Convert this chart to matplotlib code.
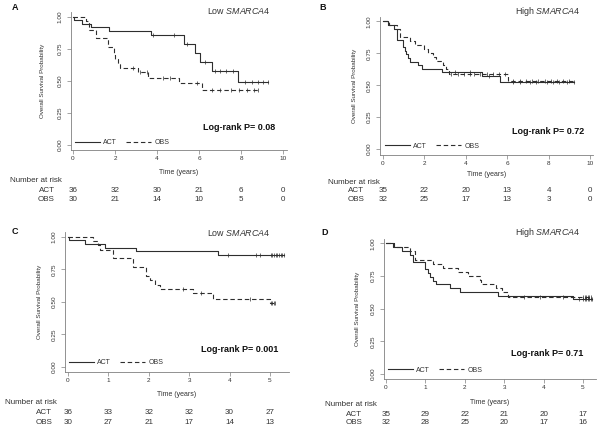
import matplotlib
matplotlib.use('Agg')

import matplotlib.pyplot as plt
import matplotlib.transforms as mtransforms
import numpy as np

# ---- data: Kaplan-Meier steps ----
# A: low SMARCA4, 10-year follow-up
a_act_t = [0, 0.05, 0.45, 0.85, 1.70, 3.73, 5.30, 5.80, 6.05, 6.60, 7.85]
a_act_s = [1.0, 0.972, 0.944, 0.917, 0.889, 0.861, 0.79, 0.72, 0.65, 0.58, 0.49]
a_act_end = 9.3
a_act_cens = [3.8, 4.8, 5.45, 6.3, 6.75, 7.0, 7.3, 7.6, 8.2, 8.5, 8.8, 9.05, 9.3]
a_obs_t = [0, 0.60, 0.78, 1.10, 1.65, 1.95, 2.02, 2.12, 2.25, 3.10, 3.58, 5.05, 6.15]
a_obs_s = [1.0, 0.967, 0.90, 0.833, 0.767, 0.70, 0.667, 0.633, 0.60, 0.567, 0.525, 0.485, 0.43]
a_obs_end = 8.8
a_obs_cens = [2.85, 3.2, 3.5, 4.3, 4.6, 5.9, 6.6, 7.0, 7.5, 7.9, 8.3, 8.6, 8.8]

# B: high SMARCA4, 10-year follow-up
b_act_t = [0, 0.25, 0.52, 0.69, 0.95, 1.05, 1.13, 1.21, 1.32, 1.69, 1.86, 2.87, 4.76, 5.65]
b_act_s = [1.0, 0.971, 0.943, 0.857, 0.80, 0.771, 0.743, 0.714, 0.686, 0.657, 0.629, 0.60,
           0.571, 0.527]
b_act_end = 9.2
b_act_cens = [3.5, 4.2, 5.1, 6.3, 6.6, 7.1, 7.4, 7.9, 8.2, 8.5, 8.9, 9.2]
b_obs_t = [0, 0.30, 0.70, 0.80, 1.29, 1.53, 1.98, 2.18, 2.40, 2.58, 2.90, 3.05, 3.18, 6.05]
b_obs_s = [1.0, 0.969, 0.9375, 0.875, 0.844, 0.8125, 0.781, 0.75, 0.719, 0.6875, 0.656,
           0.625, 0.59, 0.535]
b_obs_end = 9.2
b_obs_cens = [3.3, 3.6, 3.9, 4.2, 4.4, 4.7, 5.0, 5.3, 5.6, 5.9, 6.3, 6.6, 6.9, 7.2, 7.5,
              7.8, 8.1, 8.4, 8.7, 9.0]

# C: low SMARCA4, 5-year follow-up
c_act_t = [0, 0.02, 0.41, 0.91, 1.69, 3.72]
c_act_s = [1.0, 0.972, 0.944, 0.917, 0.889, 0.861]
c_act_end = 5.35
c_act_cens = [3.95, 4.65, 4.75, 5.02, 5.06, 5.1, 5.14, 5.18, 5.22, 5.26, 5.3, 5.35]
c_obs_t = [0, 0.62, 0.74, 0.80, 1.12, 1.61, 1.94, 2.03, 2.15, 2.27, 3.10, 3.60, 5.0]
c_obs_s = [1.0, 0.967, 0.933, 0.90, 0.833, 0.767, 0.70, 0.667, 0.633, 0.60, 0.567, 0.525,
           0.49]
c_obs_end = 5.12
c_obs_cens = [2.85, 3.3, 4.5, 5.03, 5.06, 5.09, 5.12]

# D: high SMARCA4, 5-year follow-up
d_act_t = [0, 0.19, 0.40, 0.61, 0.69, 0.99, 1.07, 1.13, 1.20, 1.28, 1.62, 1.87, 2.85, 4.75]
d_act_s = [1.0, 0.971, 0.943, 0.914, 0.857, 0.80, 0.771, 0.743, 0.714, 0.686, 0.657, 0.629,
           0.60, 0.571]
d_act_end = 5.22
d_act_cens = [4.9, 5.0, 5.04, 5.08, 5.12, 5.16, 5.2, 5.22]
d_obs_t = [0, 0.21, 0.61, 0.73, 1.20, 1.45, 1.83, 2.09, 2.38, 2.42, 2.80, 2.95, 3.10]
d_obs_s = [1.0, 0.969, 0.9375, 0.875, 0.844, 0.8125, 0.781, 0.75, 0.719, 0.6875, 0.656,
           0.625, 0.59]
d_obs_end = 5.22
d_obs_cens = [3.5, 3.9, 4.5, 5.0, 5.04, 5.08, 5.12, 5.16, 5.2]

risk_times_10 = [0, 2, 4, 6, 8, 10]
risk_times_5 = [0, 1, 2, 3, 4, 5]
a_risk_act = [36, 32, 30, 21, 6, 0]
a_risk_obs = [30, 21, 14, 10, 5, 0]
b_risk_act = [35, 22, 20, 13, 4, 0]
b_risk_obs = [32, 25, 17, 13, 3, 0]
c_risk_act = [36, 33, 32, 32, 30, 27]
c_risk_obs = [30, 27, 21, 17, 14, 13]
d_risk_act = [35, 29, 22, 21, 20, 17]
d_risk_obs = [32, 28, 25, 20, 17, 16]

W, H = 602, 433
plt.rcParams['font.family'] = ['Liberation Sans', 'DejaVu Sans']
plt.rcParams['mathtext.fontset'] = 'custom'
plt.rcParams['mathtext.rm'] = 'Liberation Sans'
plt.rcParams['mathtext.it'] = 'Liberation Sans:italic'

LINE = '#2e2e2e'
TEXT = '#333333'
AXC = '#808080'

fig = plt.figure(figsize=(W / 100, H / 100), dpi=100)


def fx(px):
    return px / W


def fy(py):
    return 1 - py / H


def km(ax, t, s, end, cens, dashed):
    xs = list(t) + [end]
    ys = list(s) + [s[-1]]
    kw = dict(color=LINE, linewidth=0.8)
    if dashed:
        kw['dashes'] = (4, 2.5)
    ax.step(xs, ys, where='post', **kw)
    idx = np.searchsorted(np.array(t), np.array(cens), side='right') - 1
    ax.plot(cens, np.array(s)[idx], linestyle='none', marker='|', markersize=3,
            markeredgewidth=0.5, color=LINE)


def panel(letter, group, pval, rect, xlim, ylim, xticks, curves, risk_t, risk_act, risk_obs,
          p):
    left, right, top, bottom = rect
    ax = fig.add_axes([fx(left), fy(bottom), fx(right - left), (bottom - top) / H])
    for c in curves:
        km(ax, *c)
    ax.set_xlim(*xlim)
    ax.set_ylim(*ylim)
    ax.set_xticks(xticks)
    ax.set_yticks([0, 0.25, 0.5, 0.75, 1.0])
    ax.set_yticklabels(['0.00', '0.25', '0.50', '0.75', '1.00'], rotation=90, va='center')
    for sp in ['top', 'right']:
        ax.spines[sp].set_visible(False)
    for sp in ['left', 'bottom']:
        ax.spines[sp].set_color(AXC)
        ax.spines[sp].set_linewidth(0.6)
    ax.tick_params(axis='both', length=3, width=0.5, color=AXC, labelsize=4.6,
                   labelcolor=TEXT)
    ax.tick_params(axis='x', pad=1.5)
    ax.tick_params(axis='y', pad=3)
    ax.set_ylabel('Overall Survival Probability', fontsize=4.5, color=TEXT)
    ax.yaxis.set_label_coords((p['ylab'] - left) / (right - left), 0.5)

    h1, = ax.plot([], [], color=LINE, linewidth=0.8)
    h2, = ax.plot([], [], color=LINE, linewidth=0.8, dashes=(4, 2.5))
    ax.legend([h1, h2], ['ACT', 'OBS'], ncol=2, frameon=False, fontsize=5,
              loc='center left', bbox_to_anchor=(fx(p['leg'][0]), fy(p['leg'][1])),
              bbox_transform=fig.transFigure, borderaxespad=0, borderpad=0,
              handlelength=3.6, handletextpad=0.5, columnspacing=1.3, labelcolor=TEXT)

    fig.text(fx(p['letter'][0]), fy(p['letter'][1]), letter, fontsize=6.5,
             fontweight='bold', ha='center', va='center', color='#111111')
    fig.text(fx(p['title'][0]), fy(p['title'][1]), group + r' $\mathit{SMARCA4}$',
             fontsize=6.4, ha='right', va='center', color=TEXT)
    fig.text(fx(p['logrank'][0]), fy(p['logrank'][1]), 'Log-rank P= ' + pval,
             fontsize=6.5, fontweight='bold', ha='right', va='center', color='#111111')
    fig.text(fx((left + right) / 2), fy(p['time']), 'Time (years)', fontsize=5,
             ha='center', va='center', color=TEXT)

    fig.text(fx(p['risk'][0]), fy(p['risk'][1]), 'Number at risk', fontsize=5.8,
             ha='left', va='center', color=TEXT)
    fig.text(fx(p['rowlab']), fy(p['rows'][0]), 'ACT', fontsize=5.8, ha='right',
             va='center', color=TEXT)
    fig.text(fx(p['rowlab']), fy(p['rows'][1]), 'OBS', fontsize=5.8, ha='right',
             va='center', color=TEXT)
    trans = mtransforms.blended_transform_factory(ax.transData, fig.transFigure)
    for t, n1, n2 in zip(risk_t, risk_act, risk_obs):
        ax.text(t, fy(p['rows'][0]), str(n1), transform=trans, fontsize=5.8,
                ha='center', va='center', color=TEXT, clip_on=False)
        ax.text(t, fy(p['rows'][1]), str(n2), transform=trans, fontsize=5.8,
                ha='center', va='center', color=TEXT, clip_on=False)
    return ax


panel('A', 'Low', '0.08', (71, 287, 12, 150), (-0.095, 10.19), (-0.039, 1.037),
      [0, 2, 4, 6, 8, 10],
      [(a_act_t, a_act_s, a_act_end, a_act_cens, False),
       (a_obs_t, a_obs_s, a_obs_end, a_obs_cens, True)],
      risk_times_10, a_risk_act, a_risk_obs,
      dict(ylab=45, leg=(75, 143), letter=(15, 8), title=(270, 11), logrank=(275, 128),
           time=173, risk=(10, 181), rowlab=55, rows=(190, 199)))

panel('B', 'High', '0.72', (380, 593, 17, 155), (-0.145, 10.14), (-0.047, 1.035),
      [0, 2, 4, 6, 8, 10],
      [(b_act_t, b_act_s, b_act_end, b_act_cens, False),
       (b_obs_t, b_obs_s, b_obs_end, b_obs_cens, True)],
      risk_times_10, b_risk_act, b_risk_obs,
      dict(ylab=357, leg=(385, 146), letter=(323, 8), title=(580, 12), logrank=(584, 131),
           time=175, risk=(328, 182), rowlab=364, rows=(191, 199)))

panel('C', 'Low', '0.001', (65, 289, 232, 372), (-0.074, 5.47), (-0.038, 1.036),
      [0, 1, 2, 3, 4, 5],
      [(c_act_t, c_act_s, c_act_end, c_act_cens, False),
       (c_obs_t, c_obs_s, c_obs_end, c_obs_cens, True)],
      risk_times_5, c_risk_act, c_risk_obs,
      dict(ylab=42, leg=(69, 363), letter=(15, 232), title=(270, 232), logrank=(278, 350),
           time=394, risk=(5, 403), rowlab=52, rows=(413, 422)))

panel('D', 'High', '0.71', (384, 596, 239, 379), (-0.05, 5.33), (-0.038, 1.033),
      [0, 1, 2, 3, 4, 5],
      [(d_act_t, d_act_s, d_act_end, d_act_cens, False),
       (d_obs_t, d_obs_s, d_obs_end, d_obs_cens, True)],
      risk_times_5, d_risk_act, d_risk_obs,
      dict(ylab=360, leg=(388, 370), letter=(325, 233), title=(580, 233),
           logrank=(583, 353), time=402, risk=(325, 404), rowlab=362, rows=(414, 423)))

fig.savefig('out.png', dpi=100)
plt.close(fig)
